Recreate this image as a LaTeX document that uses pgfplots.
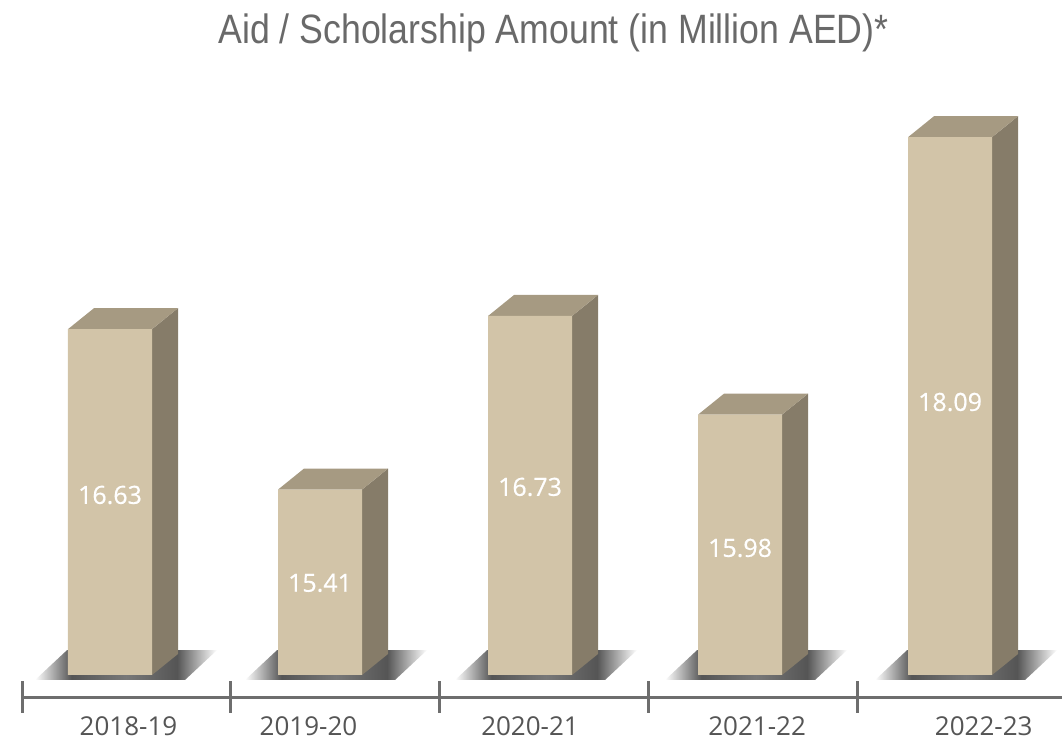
\documentclass[border=0pt]{standalone}
\usepackage{fontspec}
\usepackage{pgfplots}
\pgfplotsset{compat=1.18}
\setmainfont{Open Sans}
\newfontfamily\titlefam[FakeStretch=0.87]{Liberation Sans}
\newfontfamily\valfam[FakeBold=0.6]{Open Sans}
\definecolor{frontc}{RGB}{210,196,168}
\definecolor{sidec}{RGB}{134,124,105}
\definecolor{topc}{RGB}{166,154,130}
\definecolor{shadowc}{RGB}{85,85,85}
\definecolor{shadowm}{RGB}{120,120,120}
\definecolor{axisgray}{RGB}{110,110,110}
\definecolor{labelgray}{RGB}{85,85,85}
\definecolor{titlegray}{RGB}{105,105,105}
\pgfdeclarehorizontalshading{floorshadow}{100bp}{color(0bp)=(white); color(25bp)=(white); color(35bp)=(shadowc); color(50bp)=(shadowm); color(64bp)=(shadowc); color(75bp)=(white); color(100bp)=(white)}

% #1 = category position, #2 = value, #3 = label height
\newcommand\threedbar[3]{%
  \pgfmathsetmacro\xl{#1-0.2}\pgfmathsetmacro\xr{#1+0.2}%
  \pgfmathsetmacro\xb{#1+0.324}\pgfmathsetmacro\xbl{#1-0.076}%
  \pgfmathsetmacro\vt{#2+0.16}%
  \pgfmathsetmacro\sl{#1-0.357}\pgfmathsetmacro\sr{#1+0.357}%
  \pgfmathsetmacro\str{#1+0.51}\pgfmathsetmacro\stl{#1-0.204}%
  \edef\doit{%
    \noexpand\addplot[draw=none, shading=floorshadow]
      coordinates {(\sl,13.962) (\sr,13.962) (\str,14.19) (\stl,14.19) (\sl,13.962)};
    \noexpand\addplot[draw=none, fill=sidec]
      coordinates {(\xr,14) (\xr,#2) (\xb,\vt) (\xb,14.16) (\xr,14)};
    \noexpand\addplot[draw=none, fill=topc]
      coordinates {(\xl,#2) (\xr,#2) (\xb,\vt) (\xbl,\vt) (\xl,#2)};
    \noexpand\addplot[draw=none, fill=frontc]
      coordinates {(\xl,14) (\xr,14) (\xr,#2) (\xl,#2) (\xl,14)};
    \noexpand\node[text=white, font=\noexpand\valfam\noexpand\fontsize{12.5bp}{15bp}\noexpand\selectfont]
      at (axis cs:#1,#3) {#2};
  }\doit}

\begin{document}
\begin{tikzpicture}
\path[use as bounding box] (0,0) rectangle (531bp,372bp);
\begin{axis}[
  at={(11bp,23.5bp)}, anchor=south west,
  scale only axis, width=520bp, height=348.5bp,
  xmin=-0.419, xmax=4.533, ymin=13.8327, ymax=19.133,
  axis x line*=bottom, axis y line=none,
  x axis line style={line width=1.5bp, draw=axisgray},
  xtick={0.088,0.945,2.0,3.081,4.16},
  xticklabels={2018-19,2019-20,2020-21,2021-22,2022-23},
  major tick length=0pt,
  xtick align=center,
  extra x ticks={-0.419,0.576,1.567,2.562,3.557},
  extra x tick labels={,,,,},
  extra x tick style={major tick length=15.5bp, tick style={line width=1.5bp, draw=axisgray}},
  xticklabel style={font=\fontsize{13bp}{15bp}\selectfont, text=labelgray, anchor=base, yshift=-19bp},
  clip=false,
]
\threedbar{0}{16.63}{15.369}
\threedbar{1}{15.41}{14.70}
\threedbar{2}{16.73}{15.43}
\threedbar{3}{15.98}{14.966}
\threedbar{4}{18.09}{16.076}
\node[anchor=base, text=titlegray, font=\titlefam\fontsize{20.5bp}{24bp}\selectfont]
  at (rel axis cs:0.511,0.9383) {Aid / Scholarship Amount (in Million AED)*};
\end{axis}
\end{tikzpicture}
\end{document}
